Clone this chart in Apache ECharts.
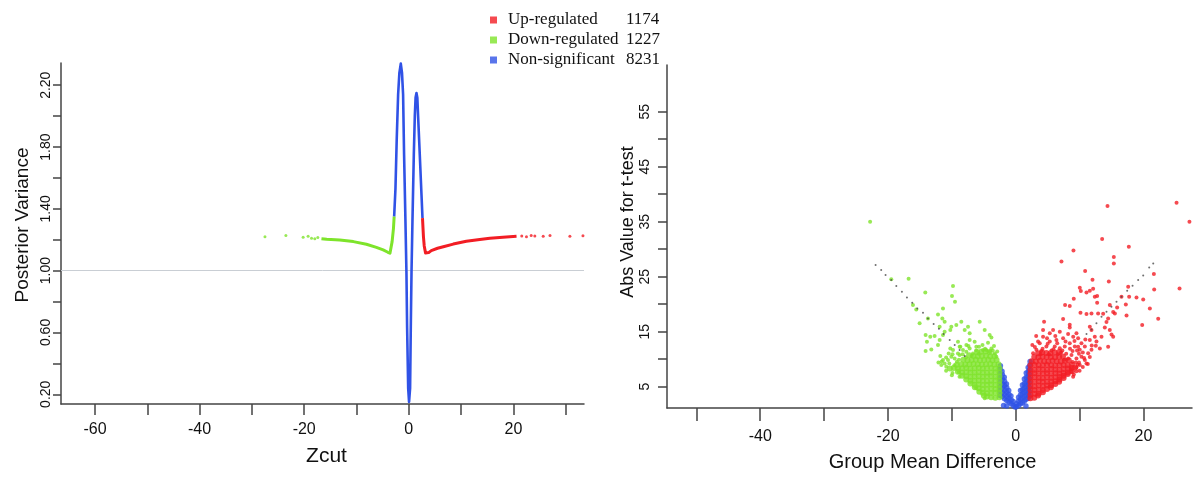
<!DOCTYPE html>
<html><head><meta charset="utf-8">
<script src="https://cdn.jsdelivr.net/npm/echarts@6/dist/echarts.min.js"></script>
<style>html,body{margin:0;padding:0;background:#fff}#c{width:1200px;height:478px}</style>
</head><body><div id="c"></div>
<script>
// ---------- legend ----------
const legendNames = ['Up-regulated', 'Down-regulated', 'Non-significant'];
const legendCounts = [1174, 1227, 8231];

// ---------- left panel: Zcut vs Posterior Variance ----------
const leftXTicks = [-60, -50, -40, -30, -20, -10, 0, 10, 20, 30];
const leftXLabels = [-60, -40, -20, 0, 20];
const leftYTicks = [0.2, 0.4, 0.6, 0.8, 1.0, 1.2, 1.4, 1.6, 1.8, 2.0, 2.2];
const leftYLabels = [0.2, 0.6, 1.0, 1.4, 1.8, 2.2];
const leftRefLine = 1.0;

const leftDownLine = [[-16.7,1.207],[-15.7,1.203],[-13.2,1.199],[-10.6,1.188],[-8.1,1.171],[-6.2,1.151],[-4.9,1.134],[-4.0,1.119],[-3.6,1.113],[-3.19,1.188],[-2.93,1.274],[-2.8,1.35]];
const leftDownDots = [[-27.5,1.22],[-23.5,1.227],[-20.2,1.216],[-19.25,1.222],[-18.6,1.21],[-17.97,1.207],[-17.4,1.214]];
const leftNonLine = [[-2.8,1.35],[-2.55,1.53],[-2.3,1.86],[-2.04,2.14],[-1.8,2.28],[-1.53,2.34],[-1.3,2.28],[-1.09,2.14],[-0.9,1.75],[-0.64,1.32],[-0.45,0.99],[-0.32,0.63],[-0.12,0.24],[0.05,0.15],[0.25,0.24],[0.38,0.63],[0.52,0.99],[0.7,1.32],[0.96,1.75],[1.15,2.0],[1.3,2.12],[1.47,2.15],[1.63,2.12],[1.78,2.0],[2.1,1.75],[2.43,1.49],[2.62,1.34]];
const leftUpLine = [[2.62,1.34],[2.8,1.22],[2.95,1.16],[3.2,1.115],[3.5,1.11],[3.8,1.117],[4.3,1.13],[5.5,1.145],[6.6,1.155],[8.5,1.172],[11.0,1.19],[13.2,1.2],[15.5,1.21],[18.0,1.217],[20.6,1.222]];
const leftUpDots = [[21.6,1.225],[22.5,1.22],[23.4,1.228],[24.1,1.224],[25.7,1.222],[27.0,1.228],[30.8,1.222],[33.3,1.226]];

// ---------- right panel: Group Mean Difference vs |t| ----------
const rightXTicks = [-50, -40, -30, -20, -10, 0, 10, 20];
const rightXLabels = [-40, -20, 0, 20];
const rightYTicks = [5, 10, 15, 20, 25, 30, 35, 40, 45, 50, 55];
const rightYLabels = [5, 15, 25, 35, 45, 55];

const rightUpSparse = [
 [14.37,37.85],[25.18,38.45],[27.2,35.0],[13.53,31.85],[17.71,30.45],[9.04,29.79],[7.16,27.79],[15.36,28.58],[15.36,27.42],[10.87,26.03],
 [21.63,25.48],[12.02,24.45],[14.58,24.15],[25.65,22.88],[21.68,22.7],[10.03,23.0],[10.19,22.39],[11.08,22.15],[11.6,22.45],[12.12,22.8],
 [12.38,21.36],[12.75,21.48],[9.09,21.0],[7.73,19.85],[8.46,19.67],[12.75,20.27],[19.96,20.88],[18.91,21.24],[17.61,23.18],[17.24,19.97],
 [17.76,21.36],[16.56,21.36],[14.73,19.85],[15.88,19.42],[21.0,19.24],[22.31,17.36],[19.8,16.21],[17.35,17.97],[15.26,18.58],[14.47,17.42],
 [15.52,18.33],[13.69,18.27],[12.9,18.33],[11.86,18.33],[11.08,18.21],[10.14,18.45],[7.42,17.3],[4.44,16.82],[4.28,15.3],[5.85,15.3],
 [8.46,16.27],[8.46,15.79],[9.51,14.7],[11.6,15.9],[11.86,15.3],[14.21,16.76],[13.95,15.79],[14.73,15.3],[15.0,14.5],[15.26,14.1],
 [13.43,14.1],[13.17,11.97],[12.54,12.45],[14.47,12.27],[11.6,13.48],[11.29,9.12],[8.73,7.73],[10.82,9.85],[9.77,12.27],
 [4.28,14.1],[5.33,13.2],[6.37,13.5],[7.42,13.8],[8.2,14.6],[9.0,14.1],[9.77,13.8],[10.29,12.9],[10.82,12.3],[11.34,11.1],
 [11.86,11.7],[10.03,11.7],[9.25,12.3],[8.46,12.9],[7.68,12.3],[6.9,12.0],[6.11,12.3],[4.8,12.3],[3.76,12.9],[3.24,11.7],
 [2.72,11.1],[8.73,10.76],[9.51,10.15],[10.29,10.45],[8.2,10.15],[11.08,9.24],[5.33,14.7],[6.9,15.0],[3.5,13.2],[12.64,13.2],
 [12.38,14.1],[9.4,9.4],[10.03,8.94],[8.99,6.82],[9.51,8.5],[5.9,11.8],[7.3,11.6],[4.2,11.9],[8.9,11.5],[9.9,11.0],
 [3.0,12.2],[4.0,11.5],[5.0,12.8],[5.6,11.6],[6.5,12.9],[7.1,11.2],[7.9,11.0],[8.5,11.9],[9.6,11.6],[10.5,11.2],
 [7.6,9.9],[8.9,9.5],[9.9,9.4],[10.5,8.6],[9.5,7.8],[10.0,7.9],[6.2,14.2],[7.8,13.2],[9.2,13.3],[10.9,13.6],
 [3.2,14.2],[4.9,13.8],[3.9,10.9],[2.6,12.6],[5.2,10.9],[6.6,10.9],[9.7,9.0],[10.7,10.2],[11.6,10.4],[11.9,12.5],
 [8.6,8.2],[9.1,7.2]
];
const rightUpCore = [
 [2.3,2.9],[2.9,3.0],[3.5,3.4],
 [2.3,3.6],[2.95,3.7],[3.6,3.7],[4.25,4.0],
 [2.3,4.4],[2.95,4.4],[3.6,4.45],[4.25,4.4],[4.9,4.6],[5.5,4.9],
 [2.3,5.15],[2.95,5.1],[3.6,5.2],[4.25,5.15],[4.9,5.2],[5.55,5.25],[6.2,5.5],[6.8,5.9],
 [2.3,5.9],[2.95,5.9],[3.6,5.95],[4.25,5.9],[4.9,5.9],[5.55,5.95],[6.2,6.0],[6.85,6.3],[7.5,6.6],
 [2.3,6.65],[2.95,6.7],[3.6,6.65],[4.25,6.6],[4.9,6.7],[5.55,6.65],[6.2,6.7],[6.85,6.75],[7.5,7.0],[8.15,7.3],
 [2.3,7.4],[2.95,7.45],[3.6,7.4],[4.25,7.4],[4.9,7.45],[5.55,7.4],[6.2,7.45],[6.85,7.4],[7.5,7.5],[8.15,7.6],[8.8,7.8],
 [2.3,8.15],[2.95,8.1],[3.6,8.2],[4.25,8.15],[4.9,8.1],[5.55,8.2],[6.2,8.15],[6.85,8.1],[7.5,8.2],[8.15,8.3],[8.8,8.4],[9.3,8.5],
 [2.3,8.9],[2.95,8.95],[3.6,8.9],[4.25,8.9],[4.9,8.95],[5.55,8.9],[6.2,8.85],[6.85,8.9],[7.5,8.95],[8.15,8.9],[8.8,9.0],
 [2.5,9.65],[3.15,9.6],[3.8,9.7],[4.45,9.65],[5.1,9.6],[5.75,9.7],[6.4,9.65],[7.05,9.6],[7.7,9.7],[8.3,9.8],
 [2.9,10.4],[3.55,10.35],[4.2,10.45],[4.85,10.4],[5.5,10.4],[6.15,10.35],[6.8,10.45],[7.4,10.5],
 [3.5,11.1],[4.15,11.2],[4.8,11.15],[5.45,11.1],[6.1,11.2],[6.8,11.3]
];

const rightDownSparse = [
 [-22.8,35.0],[-19.49,24.52],[-16.77,24.64],[-14.16,22.15],[-9.82,23.3],[-9.98,21.48],[-9.51,20.45],[-11.39,19.24],[-12.17,18.15],[-16.09,19.85],
 [-15.57,19.06],[-15.05,16.52],[-13.74,17.42],[-11.91,15.9],[-11.49,17.42],[-11.13,16.82],[-10.08,15.9],[-10.24,15.3],[-9.3,16.21],[-8.52,16.82],
 [-5.64,16.82],[-7.47,15.9],[-7.21,14.7],[-7.99,15.3],[-4.86,15.3],[-4.08,14.39],[-3.81,13.97],[-14.11,14.39],[-13.38,14.09],[-12.7,14.21],
 [-11.91,13.48],[-11.39,14.39],[-11.13,15.0],[-13.9,13.18],[-12.17,12.58],[-13.22,11.79],[-14.11,11.48],[-11.81,10.58],[-10.5,11.06],[-10.24,11.97],
 [-9.04,13.18],[-8.67,12.27],[-7.73,12.58],[-7.21,13.48],[-6.43,13.18],[-5.75,12.27],[-4.34,13.0],[-3.81,11.97],[-3.29,11.06],[-4.6,11.67],
 [-9.2,9.55],[-9.56,10.15],[-8.78,10.76],
 [-10.6,9.85],[-11.13,9.24],[-10.08,10.45],[-9.04,11.06],[-8.26,11.67],[-7.21,11.97],[-6.17,12.27],[-5.12,11.67],[-4.08,11.36],[-3.03,10.45],
 [-6.69,11.06],[-7.73,11.36],[-10.87,8.64],[-11.65,8.94],[-8.78,12.27],[-9.82,11.67],[-11.39,9.85],
 [-9.9,7.5],[-8.8,6.8],[-6.2,4.7],[-4.86,2.9],
 [-9.6,8.9],[-10.4,9.2],[-8.9,9.9],[-7.8,10.3],[-6.9,10.6],[-5.8,11.0],[-4.8,11.9],[-3.6,11.6],[-2.9,11.4],[-6.2,11.6],
 [-8.3,10.9],[-9.9,10.9],[-10.9,10.3],[-11.6,9.6],[-10.9,7.9],[-10.0,7.1],[-12.1,9.4],[-7.4,12.4],[-5.2,12.6],[-3.4,12.4],
 [-8.9,7.6]
];
const rightDownCore = [
 [-2.55,3.1],[-3.2,3.0],[-3.85,3.1],[-4.5,3.2],[-5.0,3.4],
 [-2.55,3.85],[-3.2,3.9],[-3.85,3.85],[-4.5,3.8],[-5.15,3.9],[-5.7,4.1],
 [-2.55,4.6],[-3.2,4.6],[-3.85,4.65],[-4.5,4.6],[-5.15,4.6],[-5.8,4.7],[-6.4,4.9],
 [-2.55,5.35],[-3.2,5.3],[-3.85,5.4],[-4.5,5.35],[-5.15,5.3],[-5.8,5.4],[-6.45,5.35],[-7.1,5.6],
 [-2.55,6.1],[-3.2,6.15],[-3.85,6.1],[-4.5,6.05],[-5.15,6.1],[-5.8,6.15],[-6.45,6.1],[-7.1,6.1],[-7.75,6.3],
 [-2.55,6.85],[-3.2,6.8],[-3.85,6.9],[-4.5,6.85],[-5.15,6.8],[-5.8,6.9],[-6.45,6.85],[-7.1,6.8],[-7.75,6.9],[-8.4,7.0],
 [-2.55,7.6],[-3.2,7.65],[-3.85,7.6],[-4.5,7.55],[-5.15,7.6],[-5.8,7.65],[-6.45,7.6],[-7.1,7.6],[-7.75,7.65],[-8.4,7.6],[-9.05,7.7],
 [-2.55,8.35],[-3.2,8.3],[-3.85,8.4],[-4.5,8.35],[-5.15,8.3],[-5.8,8.4],[-6.45,8.35],[-7.1,8.3],[-7.75,8.4],[-8.4,8.35],[-9.05,8.3],[-9.7,8.4],[-10.3,8.3],
 [-2.7,9.1],[-3.35,9.05],[-4.0,9.15],[-4.65,9.1],[-5.3,9.05],[-5.95,9.1],[-6.6,9.15],[-7.25,9.1],[-7.9,9.05],[-8.55,9.1],[-9.2,9.0],
 [-3.0,9.85],[-3.65,9.8],[-4.3,9.9],[-4.95,9.85],[-5.6,9.8],[-6.25,9.9],[-6.9,9.85],[-7.55,9.8],[-8.2,9.9],
 [-3.35,10.6],[-4.0,10.55],[-4.65,10.65],[-5.3,10.6],[-5.95,10.55],[-6.6,10.6],[-7.3,10.7],
 [-4.1,11.3],[-4.75,11.4],[-5.4,11.35],[-6.05,11.3]
];

const rightNon = [
 [-2.45,3.4],[-2.45,4.2],[-2.45,5.0],[-2.45,5.8],[-2.45,6.6],[-2.45,7.4],[-2.45,8.2],[-2.4,8.8],
 [-2.1,3.2],[-2.1,4.0],[-2.1,4.8],[-2.1,5.6],[-2.1,6.4],[-2.1,7.2],[-2.15,7.8],
 [-1.75,2.8],[-1.75,3.6],[-1.75,4.4],[-1.75,5.2],[-1.75,6.0],[-1.8,6.7],
 [-1.4,2.5],[-1.4,3.2],[-1.4,4.0],[-1.4,4.8],[-1.45,5.5],
 [-1.05,2.2],[-1.05,2.9],[-1.05,3.6],[-1.1,4.3],
 [-0.7,1.9],[-0.7,2.6],[-0.75,3.3],
 [-0.4,1.6],[-0.4,2.3],[-0.1,1.3],[0.1,1.35],[0.15,1.9],
 [0.45,1.6],[0.45,2.4],[0.45,3.1],
 [0.75,1.9],[0.75,2.7],[0.75,3.5],[0.75,4.3],
 [1.05,2.1],[1.05,2.9],[1.05,3.7],[1.05,4.5],[1.05,5.3],
 [1.35,2.4],[1.35,3.2],[1.35,4.0],[1.35,4.8],[1.35,5.6],[1.35,6.4],
 [1.65,2.7],[1.65,3.5],[1.65,4.3],[1.65,5.1],[1.65,5.9],[1.65,6.7],[1.65,7.5],
 [1.95,2.9],[1.95,3.7],[1.95,4.5],[1.95,5.3],[1.95,6.1],[1.95,6.9],[1.95,7.7],[1.95,8.5],
 [2.15,3.3],[2.15,4.1],[2.15,4.9],[2.15,5.7],[2.15,6.5],[2.15,7.3],[2.15,8.1],[2.2,8.9],[2.25,9.6],
 [-1.9,1.6],[-1.4,1.5],[1.6,1.5]
];

const rightGrayDots = [
 [-21.94,27.12],[-21.06,26.21],[-20.38,25.3],[-19.49,24.39],[-18.7,23.3],[-17.82,22.27],[-17.03,21.24],[-16.2,20.27],[-15.41,19.24],
 [-14.52,18.45],[-13.74,17.42],[-12.85,16.39],[-12.02,15.55],[-11.29,14.58],[-10.34,13.48],[-9.56,12.58],[-8.78,11.67],[-7.99,10.58],
 [21.53,27.42],[20.9,26.7],[19.96,25.24],[19.17,24.39],[18.29,23.36],[17.45,22.45],[16.56,21.36],[15.78,20.45],[14.99,19.55],
 [14.21,18.64],[13.43,17.73],[12.64,16.52],[11.86,15.42],[11.08,14.58]
];

// ---------- styles ----------
const RED = '#f21d24', GREEN = '#7ee42b', BLUE = '#3052e6', GRAY = '#4a4a4a';
const AX = '#444444';
const SANS = '"Liberation Sans", Arial, sans-serif';
const SERIF = '"Liberation Serif", "Times New Roman", serif';

function axisBase(extra) {
  return Object.assign({
    type: 'value',
    axisLine: { show: true, onZero: false, lineStyle: { color: AX, width: 1.5 } },
    splitLine: { show: false },
  }, extra);
}

const chart = echarts.init(document.getElementById('c'), null, { renderer: 'canvas' });
chart.setOption({
  animation: false,
  backgroundColor: '#ffffff',
  legend: {
    orient: 'vertical', left: 490, top: 10, padding: 0, itemGap: 0,
    itemWidth: 7, itemHeight: 7, icon: 'rect', selectedMode: false,
    data: legendNames,
    formatter: function (name) {
      const i = legendNames.indexOf(name);
      return '{a|' + name + '}{b|' + legendCounts[i] + '}';
    },
    textStyle: {
      fontFamily: SERIF, fontSize: 17, color: '#111', lineHeight: 20,
      rich: {
        a: { fontFamily: SERIF, fontSize: 17, color: '#111', width: 118, padding: [0, 0, 0, 6], lineHeight: 20 },
        b: { fontFamily: SERIF, fontSize: 17, color: '#111', lineHeight: 20 }
      }
    }
  },
  grid: [
    { left: 61, top: 63, width: 523, height: 341 },
    { left: 667, top: 65, width: 525, height: 343 }
  ],
  xAxis: [
    axisBase({
      gridIndex: 0, min: -66.5, max: 33.5,
      axisTick: { show: true, length: 11, customValues: leftXTicks, lineStyle: { color: AX, width: 1.5 } },
      axisLabel: { customValues: leftXLabels, margin: 18, fontSize: 16, fontFamily: SANS, color: '#111' },
      name: 'Zcut', nameLocation: 'middle', nameGap: 42,
      nameTextStyle: { fontSize: 21, fontFamily: SANS, color: '#111', padding: [0, 0, 0, 8] }
    }),
    axisBase({
      gridIndex: 1, min: -54.6, max: 27.6,
      axisTick: { show: true, length: 13, customValues: rightXTicks, lineStyle: { color: AX, width: 1.5 } },
      axisLabel: { customValues: rightXLabels, margin: 21, fontSize: 16, fontFamily: SANS, color: '#111' },
      name: 'Group Mean Difference', nameLocation: 'middle', nameGap: 44,
      nameTextStyle: { fontSize: 20, fontFamily: SANS, color: '#111', padding: [0, 0, 0, 6] }
    })
  ],
  yAxis: [
    axisBase({
      gridIndex: 0, min: 0.137, max: 2.344,
      axisTick: { show: true, length: 8, customValues: leftYTicks, lineStyle: { color: AX, width: 1.5 } },
      axisLabel: { customValues: leftYLabels, rotate: 90, margin: 8, fontSize: 14, fontFamily: SANS, color: '#111',
        formatter: function (v) { return Number(v).toFixed(2); } },
      name: 'Posterior Variance', nameLocation: 'middle', nameGap: 29, nameRotate: 90,
      nameTextStyle: { fontSize: 19, fontFamily: SANS, color: '#111', padding: [0, 0, 0, 17] }
    }),
    axisBase({
      gridIndex: 1, min: 1.13, max: 63.5,
      axisTick: { show: true, length: 9, customValues: rightYTicks, lineStyle: { color: AX, width: 1.5 } },
      axisLabel: { customValues: rightYLabels, rotate: 90, margin: 15, fontSize: 14, fontFamily: SANS, color: '#111' },
      name: 'Abs Value for t-test', nameLocation: 'middle', nameGap: 27, nameRotate: 90,
      nameTextStyle: { fontSize: 18, fontFamily: SANS, color: '#111', padding: [0, 0, 0, 29] }
    })
  ],
  series: [
    { name: 'Up-regulated', type: 'scatter', xAxisIndex: 1, yAxisIndex: 1, data: rightUpSparse,
      symbolSize: 4, itemStyle: { color: RED }, silent: true, z: 3 },
    { name: 'Down-regulated', type: 'scatter', xAxisIndex: 1, yAxisIndex: 1, data: rightDownSparse,
      symbolSize: 4, itemStyle: { color: GREEN }, silent: true, z: 3 },
    { name: 'Non-significant', type: 'scatter', xAxisIndex: 1, yAxisIndex: 1, data: rightNon,
      symbolSize: 5.5, itemStyle: { color: BLUE }, silent: true, z: 3 },
    { name: 'Up-regulated', type: 'scatter', xAxisIndex: 1, yAxisIndex: 1, data: rightUpCore,
      symbolSize: 6, itemStyle: { color: RED }, silent: true, z: 3 },
    { name: 'Down-regulated', type: 'scatter', xAxisIndex: 1, yAxisIndex: 1, data: rightDownCore,
      symbolSize: 6, itemStyle: { color: GREEN }, silent: true, z: 3 },
    { name: 'ref', type: 'scatter', xAxisIndex: 1, yAxisIndex: 1, data: rightGrayDots,
      symbolSize: 2, itemStyle: { color: GRAY }, silent: true, z: 4 },
    { name: 'Non-significant', type: 'line', xAxisIndex: 0, yAxisIndex: 0, data: leftNonLine,
      showSymbol: false, symbol: 'none', lineStyle: { color: BLUE, width: 2.6, join: 'round' },
      itemStyle: { color: BLUE }, silent: true, z: 3,
      markLine: { silent: true, symbol: 'none', label: { show: false },
        lineStyle: { color: '#c9ced4', width: 1, type: 'solid' }, data: [{ yAxis: leftRefLine }], z: 1 } },
    { name: 'Down-regulated', type: 'line', xAxisIndex: 0, yAxisIndex: 0, data: leftDownLine,
      showSymbol: false, symbol: 'none', lineStyle: { color: GREEN, width: 3, join: 'round' },
      itemStyle: { color: GREEN }, silent: true, z: 3 },
    { name: 'Down-regulated', type: 'scatter', xAxisIndex: 0, yAxisIndex: 0, data: leftDownDots,
      symbolSize: 3, itemStyle: { color: GREEN }, silent: true, z: 3 },
    { name: 'Up-regulated', type: 'line', xAxisIndex: 0, yAxisIndex: 0, data: leftUpLine,
      showSymbol: false, symbol: 'none', lineStyle: { color: RED, width: 3, join: 'round' },
      itemStyle: { color: RED }, silent: true, z: 3 },
    { name: 'Up-regulated', type: 'scatter', xAxisIndex: 0, yAxisIndex: 0, data: leftUpDots,
      symbolSize: 3, itemStyle: { color: RED }, silent: true, z: 3 }
  ]
});
</script></body></html>
